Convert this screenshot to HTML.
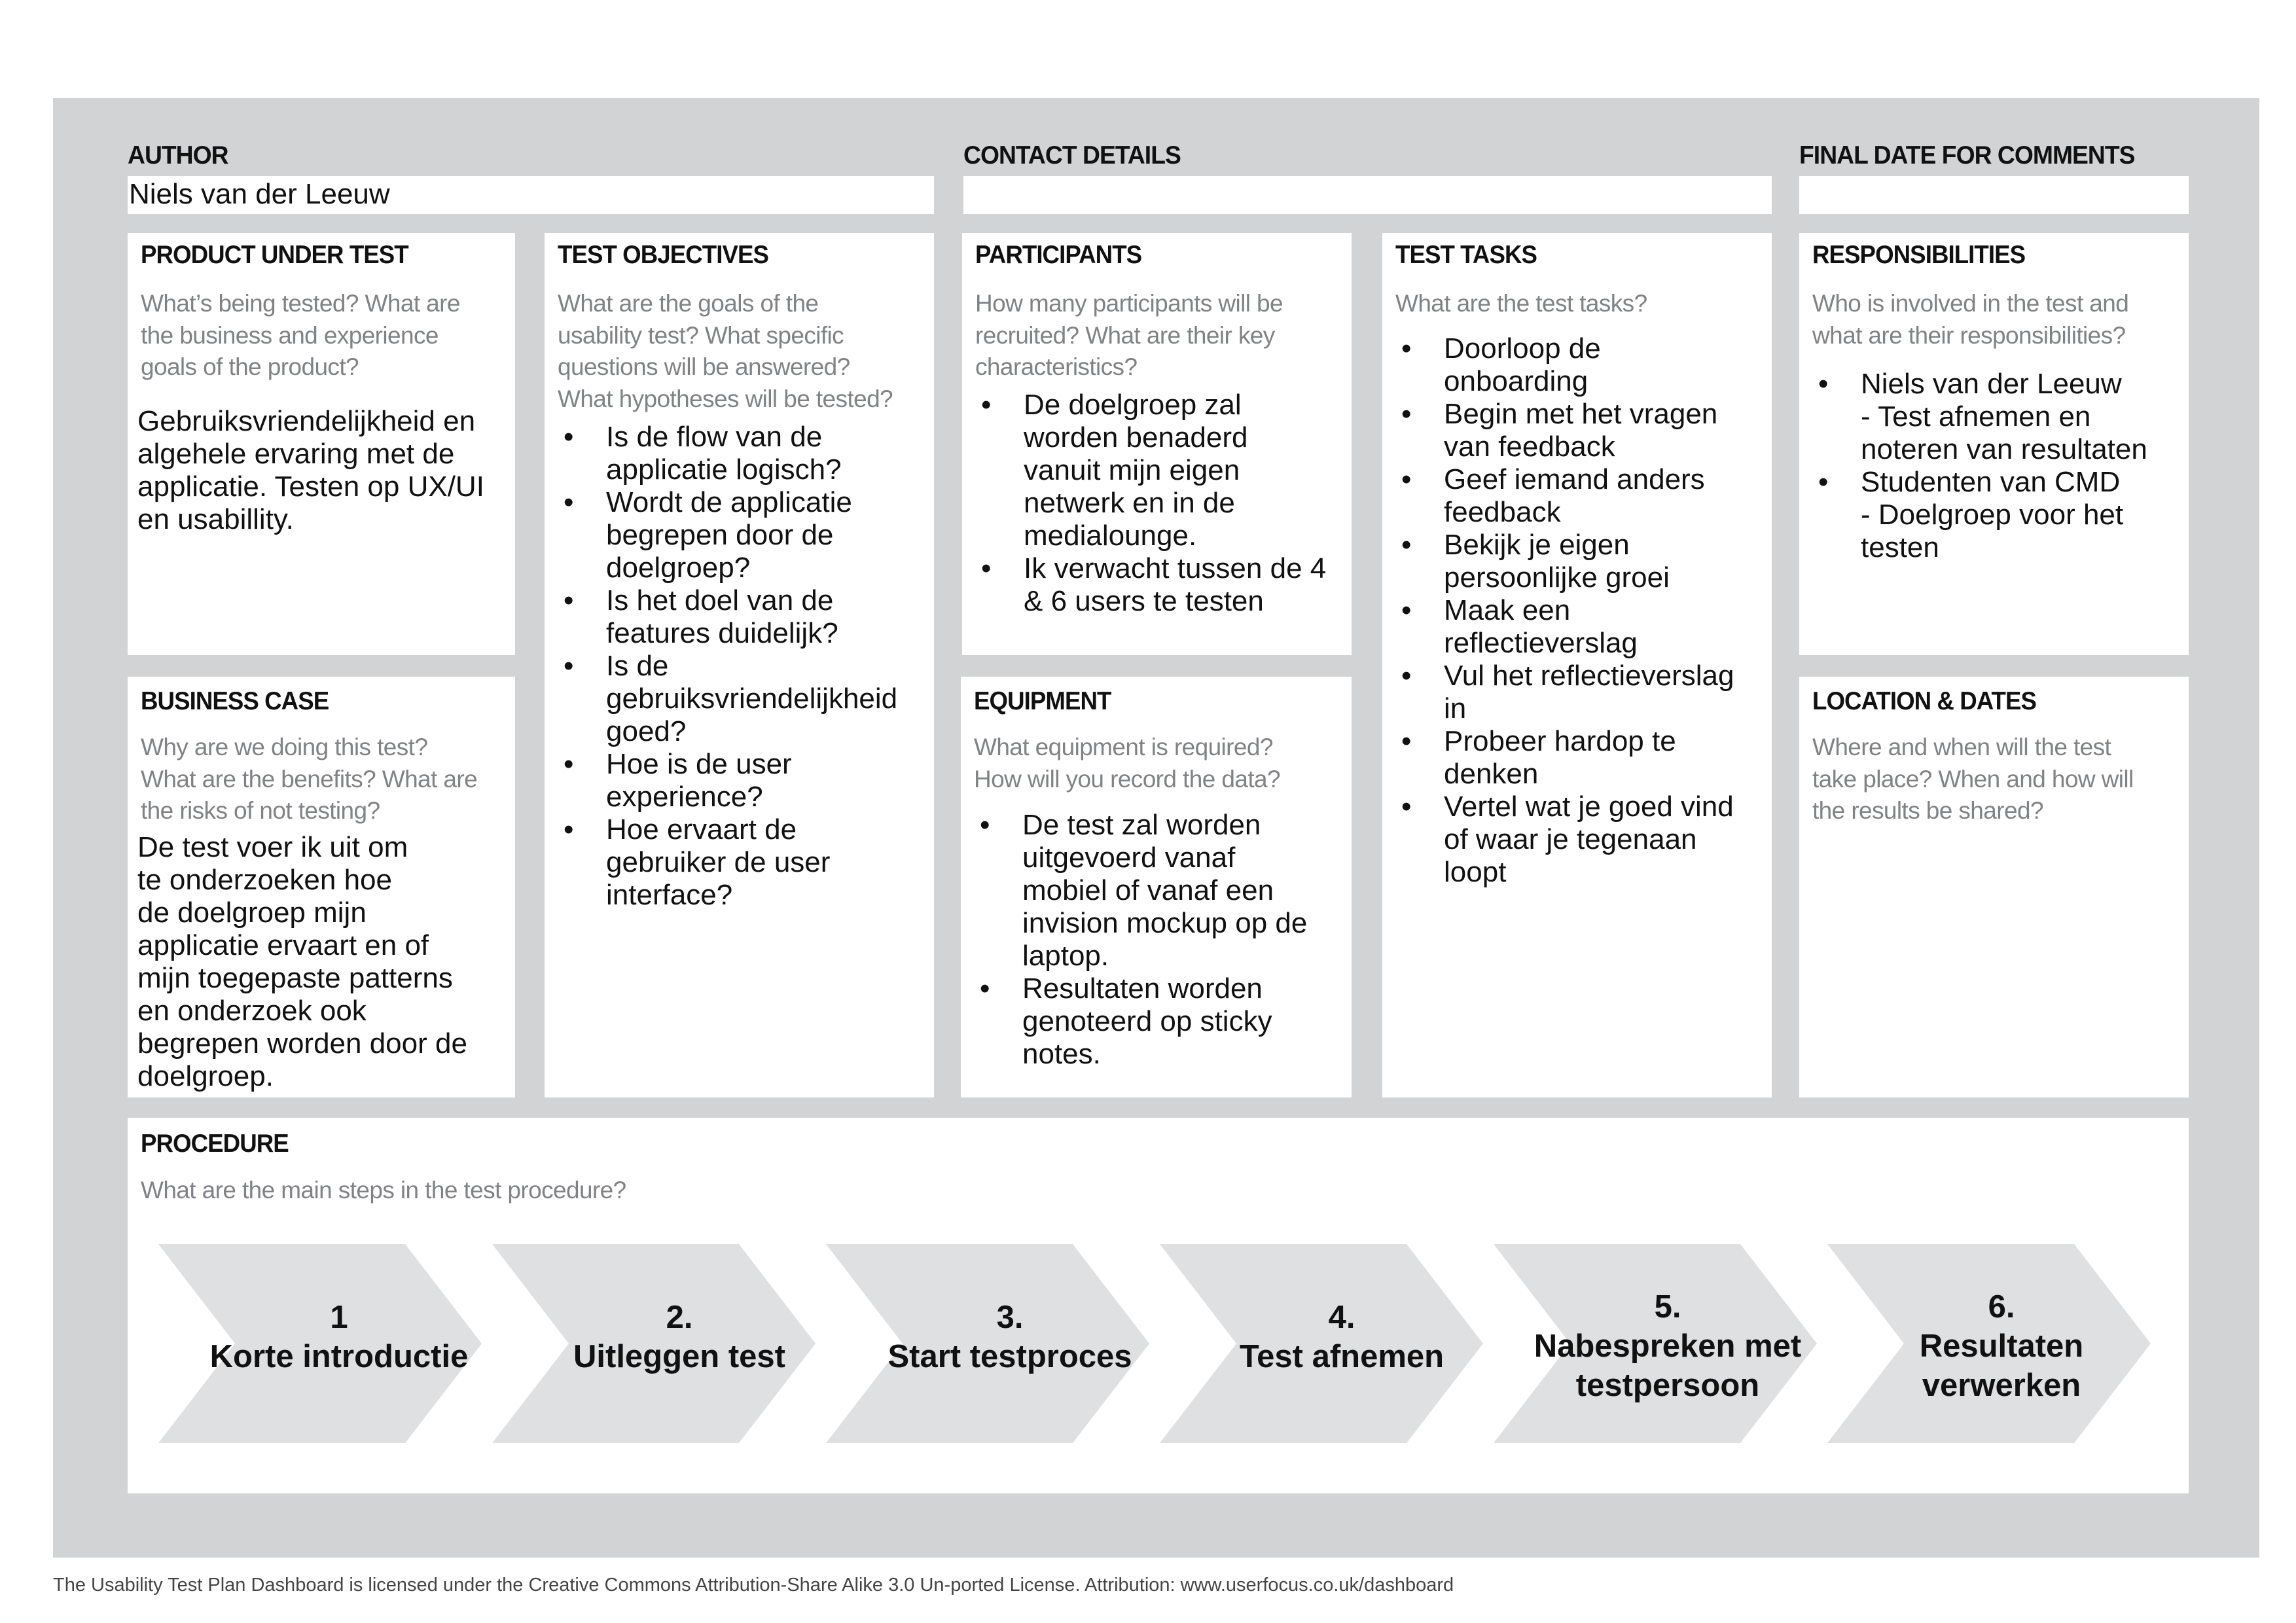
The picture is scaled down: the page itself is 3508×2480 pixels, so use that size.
<!DOCTYPE html>
<html><head><meta charset="utf-8"><style>
*{margin:0;padding:0;box-sizing:border-box}
body{width:3508px;height:2480px;background:#fff;position:relative;overflow:hidden;font-family:"Liberation Sans",sans-serif}
.bg{position:absolute;left:81px;top:150px;width:3371px;height:2230px;background:#d1d3d4}
.box{position:absolute;background:#fff}
.t{position:absolute;left:20px;font-weight:bold;font-size:39px;line-height:40px;color:#111;white-space:nowrap;letter-spacing:-1px;transform:scaleX(0.94);transform-origin:0 0}
.q{position:absolute;left:20px;font-size:37px;line-height:48.5px;color:#808285;white-space:nowrap;letter-spacing:-0.6px}
.b{position:absolute;left:15px;font-size:44px;line-height:50px;color:#111;white-space:nowrap}
ul{position:absolute;left:0;list-style:none;font-size:44px;line-height:50px;color:#111;white-space:nowrap}
li{position:relative;padding-left:94px}
li:before{content:"•";position:absolute;left:29px;top:0}
.h{position:absolute;font-weight:bold;font-size:39px;line-height:40px;color:#111;white-space:nowrap;top:218px;letter-spacing:-1px;transform:scaleX(0.955);transform-origin:0 0}
.ct{position:absolute;width:520px;text-align:center;font-weight:bold;font-size:49px;line-height:60px;color:#111;white-space:nowrap}
.foot{position:absolute;left:81px;top:2406px;font-size:29px;color:#444;white-space:nowrap}
</style></head><body>
<div class="bg"></div>
<div class="h" style="left:195px">AUTHOR</div>
<div class="h" style="left:1472px">CONTACT DETAILS</div>
<div class="h" style="left:2749px">FINAL DATE FOR COMMENTS</div>
<div class="box" style="left:195px;top:269px;width:1232px;height:58px"><div class="b" style="left:2px;top:3px">Niels van der Leeuw</div></div>
<div class="box" style="left:1472px;top:269px;width:1235px;height:58px"></div>
<div class="box" style="left:2749px;top:269px;width:595px;height:58px"></div>

<div class="box" style="left:195px;top:356px;width:592px;height:645px">
<div class="t" style="top:14px">PRODUCT UNDER TEST</div>
<div class="q" style="top:84px">What’s being tested? What are<br>the business and experience<br>goals of the product?</div>
<div class="b" style="top:263px">Gebruiksvriendelijkheid en<br>algehele ervaring met de<br>applicatie. Testen op UX/UI<br>en usabillity.</div>
</div>

<div class="box" style="left:832px;top:356px;width:595px;height:1321px">
<div class="t" style="top:14px">TEST OBJECTIVES</div>
<div class="q" style="top:84px">What are the goals of the<br>usability test? What specific<br>questions will be answered?<br>What hypotheses will be tested?</div>
<ul style="top:287px"><li>Is de flow van de<br>applicatie logisch?</li><li>Wordt de applicatie<br>begrepen door de<br>doelgroep?</li><li>Is het doel van de<br>features duidelijk?</li><li>Is de<br>gebruiksvriendelijkheid<br>goed?</li><li>Hoe is de user<br>experience?</li><li>Hoe ervaart de<br>gebruiker de user<br>interface?</li></ul>
</div>

<div class="box" style="left:1470px;top:356px;width:595px;height:645px">
<div class="t" style="top:14px">PARTICIPANTS</div>
<div class="q" style="top:84px">How many participants will be<br>recruited? What are their key<br>characteristics?</div>
<ul style="top:238px"><li>De doelgroep zal<br>worden benaderd<br>vanuit mijn eigen<br>netwerk en in de<br>medialounge.</li><li>Ik verwacht tussen de 4<br>&amp; 6 users te testen</li></ul>
</div>

<div class="box" style="left:2112px;top:356px;width:595px;height:1321px">
<div class="t" style="top:14px">TEST TASKS</div>
<div class="q" style="top:84px">What are the test tasks?</div>
<ul style="top:152px"><li>Doorloop de<br>onboarding</li><li>Begin met het vragen<br>van feedback</li><li>Geef iemand anders<br>feedback</li><li>Bekijk je eigen<br>persoonlijke groei</li><li>Maak een<br>reflectieverslag</li><li>Vul het reflectieverslag<br>in</li><li>Probeer hardop te<br>denken</li><li>Vertel wat je goed vind<br>of waar je tegenaan<br>loopt</li></ul>
</div>

<div class="box" style="left:2749px;top:356px;width:595px;height:645px">
<div class="t" style="top:14px">RESPONSIBILITIES</div>
<div class="q" style="top:84px">Who is involved in the test and<br>what are their responsibilities?</div>
<ul style="top:206px"><li>Niels van der Leeuw<br>- Test afnemen en<br>noteren van resultaten</li><li>Studenten van CMD<br>- Doelgroep voor het<br>testen</li></ul>
</div>

<div class="box" style="left:195px;top:1034px;width:592px;height:643px">
<div class="t" style="top:18px">BUSINESS CASE</div>
<div class="q" style="top:84px">Why are we doing this test?<br>What are the benefits? What are<br>the risks of not testing?</div>
<div class="b" style="top:236px">De test voer ik uit om<br>te onderzoeken hoe<br>de doelgroep mijn<br>applicatie ervaart en of<br>mijn toegepaste patterns<br>en onderzoek ook<br>begrepen worden door de<br>doelgroep.</div>
</div>

<div class="box" style="left:1468px;top:1034px;width:597px;height:643px">
<div class="t" style="top:18px">EQUIPMENT</div>
<div class="q" style="top:84px">What equipment is required?<br>How will you record the data?</div>
<ul style="top:202px"><li>De test zal worden<br>uitgevoerd vanaf<br>mobiel of vanaf een<br>invision mockup op de<br>laptop.</li><li>Resultaten worden<br>genoteerd op sticky<br>notes.</li></ul>
</div>

<div class="box" style="left:2749px;top:1034px;width:595px;height:643px">
<div class="t" style="top:18px">LOCATION &amp; DATES</div>
<div class="q" style="top:84px">Where and when will the test<br>take place? When and how will<br>the results be shared?</div>
</div>

<div class="box" style="left:195px;top:1708px;width:3149px;height:574px">
<div class="t" style="top:20px">PROCEDURE</div>
<div class="q" style="top:87px">What are the main steps in the test procedure?</div>
</div>

<svg style="position:absolute;left:0;top:0" width="3508" height="2480">
<g fill="#dfe0e2">
<polygon points="242,1901 619,1901 736,2053 619,2205 242,2205 359,2053"/>
<polygon points="752,1901 1129,1901 1246,2053 1129,2205 752,2205 869,2053"/>
<polygon points="1262,1901 1639,1901 1756,2053 1639,2205 1262,2205 1379,2053"/>
<polygon points="1772,1901 2149,1901 2266,2053 2149,2205 1772,2205 1889,2053"/>
<polygon points="2282,1901 2659,1901 2776,2053 2659,2205 2282,2205 2399,2053"/>
<polygon points="2792,1901 3169,1901 3286,2053 3169,2205 2792,2205 2909,2053"/>
</g></svg>
<div class="ct" style="left:258px;top:1983px">1<br>Korte introductie</div>
<div class="ct" style="left:778px;top:1983px">2.<br>Uitleggen test</div>
<div class="ct" style="left:1283px;top:1983px">3.<br>Start testproces</div>
<div class="ct" style="left:1790px;top:1983px">4.<br>Test afnemen</div>
<div class="ct" style="left:2288px;top:1967px">5.<br>Nabespreken met<br>testpersoon</div>
<div class="ct" style="left:2798px;top:1967px">6.<br>Resultaten<br>verwerken</div>

<div class="foot">The Usability Test Plan Dashboard is licensed under the Creative Commons Attribution-Share Alike 3.0 Un-ported License. Attribution: www.userfocus.co.uk/dashboard</div>
</body></html>
